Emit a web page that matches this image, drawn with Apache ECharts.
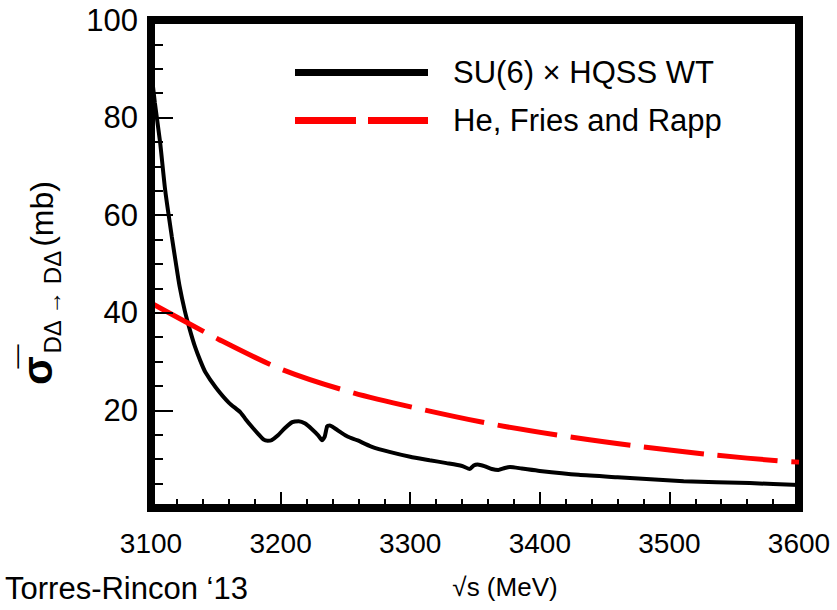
<!DOCTYPE html>
<html>
<head>
<meta charset="utf-8">
<script src="https://cdn.jsdelivr.net/npm/echarts@6/dist/echarts.min.js"></script>
<style>html,body{margin:0;padding:0;background:#fff;}#c{width:837px;height:610px;}</style>
</head>
<body>
<div id="c"></div>
<script>
// Data
const blackX = [3100,3103,3107,3111,3116,3119,3122,3126,3130,3134,3138,3142,3150,3160,3169,3173,3178,3183,3187,3190,3193,3198,3203,3209,3214,3219,3224,3229,3232,3234,3236,3238,3242,3247,3252,3259,3270,3284,3300,3315,3328,3340,3346,3349,3352,3358,3363,3368,3373,3377,3386,3400,3430,3460,3511,3562,3600];
const blackY = [90,83,75,65,55.7,50.5,45.5,40.5,36.5,33,30.2,27.8,24.7,21.6,19.6,18.2,16.6,15.1,14.0,13.8,13.9,14.9,16.3,17.6,17.8,17.3,16.2,14.9,13.9,14.6,16.8,16.9,16.3,15.4,14.6,13.9,12.6,11.5,10.5,9.8,9.2,8.6,8.0,8.7,8.9,8.5,8.0,7.8,8.2,8.4,8.1,7.6,6.8,6.3,5.5,5.1,4.7];
const redX = [3100,3152,3201,3256,3311,3367,3422,3477,3533,3587,3600];
const redY = [42,34.6,28.4,23.6,20.1,17.0,14.6,12.6,10.9,9.6,9.4];
const xTicks = [3100,3200,3300,3400,3500,3600];
const yTicks = [20,40,60,80,100];
const seriesNames = ['SU(6) \u00d7 HQSS WT','He, Fries and Rapp'];

const pair = (xs, ys) => xs.map((x, i) => [x, ys[i]]);
const FONT = '"Liberation Sans", Arial, Helvetica, sans-serif';

const chart = echarts.init(document.getElementById('c'), null, {renderer: 'svg'});
chart.setOption({
  animation: false,
  backgroundColor: '#fff',
  textStyle: {fontFamily: FONT, color: '#000'},
  grid: {left: 151, right: 38, top: 20, bottom: 102, show: true, borderWidth: 8, borderColor: '#000', backgroundColor: 'transparent'},
  legend: {
    orient: 'vertical', left: 295, top: 57, padding: 0, itemWidth: 133, itemHeight: 30, itemGap: 17,
    textStyle: {fontSize: 31, fontFamily: FONT, color: '#000', padding: [0, 0, 0, 20]},
    data: [
      {name: seriesNames[0], icon: 'path://M0,0H133V7H0Z'},
      {name: seriesNames[1], icon: 'path://M0,0H61V7H0Z M73,0H133V7H73Z'}
    ]
  },
  xAxis: {
    type: 'value', min: 3100, max: 3600, interval: 100, z: 5,
    axisLine: {show: true, lineStyle: {color: '#000', width: 8}},
    splitLine: {show: false},
    axisTick: {show: true, inside: true, length: 16, lineStyle: {color: '#000', width: 2}},
    minorTick: {show: true, splitNumber: 5, length: 9, lineStyle: {color: '#000', width: 2}},
    axisLabel: {fontSize: 28, color: '#000', fontFamily: FONT, margin: 21,
      formatter: v => xTicks.includes(v) ? String(v) : ''},
    name: '\u221As (MeV)', nameLocation: 'middle', nameGap: 66,
    nameTextStyle: {fontSize: 26, color: '#000', fontFamily: FONT, padding: [0, 0, 0, 60]}
  },
  yAxis: {
    type: 'value', min: 0, max: 100, interval: 20, z: 5,
    axisLine: {show: true, lineStyle: {color: '#000', width: 8}},
    splitLine: {show: false},
    axisTick: {show: true, inside: true, length: 22, lineStyle: {color: '#000', width: 2}},
    minorTick: {show: true, splitNumber: 4, length: 12, lineStyle: {color: '#000', width: 2}},
    axisLabel: {fontSize: 31, color: '#000', fontFamily: FONT, margin: 13,
      formatter: v => yTicks.includes(v) ? String(v) : ''},
    name: '{sig|\u03c3\u0305}{sub|D\u0394 \u2192 D\u0394} {norm|(mb)}',
    nameLocation: 'middle', nameGap: 87, nameRotate: 90,
    nameTextStyle: {
      color: '#000', fontFamily: FONT, padding: [0, 38, 0, 0],
      rich: {
        sig: {fontSize: 42, fontWeight: 'bold', fontFamily: FONT, color: '#000', verticalAlign: 'bottom', padding: [0, 2, 6, 0]},
        sub: {fontSize: 24, fontFamily: FONT, color: '#000', verticalAlign: 'bottom'},
        norm: {fontSize: 32, fontFamily: FONT, color: '#000', verticalAlign: 'bottom', padding: [0, 0, 6, 0]}
      }
    }
  },
  series: [
    {name: seriesNames[0], type: 'line', data: pair(blackX, blackY), showSymbol: false, symbol: 'none', smooth: 0.2,
      lineStyle: {color: '#000', width: 4}, itemStyle: {color: '#000'}, z: 3},
    {name: seriesNames[1], type: 'line', data: pair(redX, redY), showSymbol: false, symbol: 'none', smooth: 0.3,
      lineStyle: {color: '#ff0000', width: 5, type: [60, 14], cap: 'butt'}, itemStyle: {color: '#ff0000'}, z: 4}
  ],
  graphic: [
    {type: 'text', left: 5, top: 573, style: {text: 'Torres-Rincon \u201813', fontSize: 31, fontFamily: FONT, fill: '#000'}}
  ]
});
</script>
</body>
</html>
